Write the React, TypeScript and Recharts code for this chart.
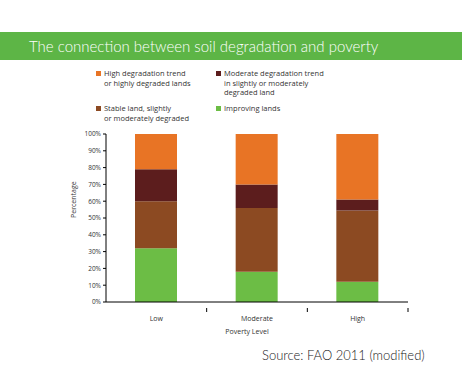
import React from 'react'
import { BarChart, Bar, XAxis, YAxis } from 'recharts'

const levels = ['Low', 'Moderate', 'High']
const improving = [32, 18, 12]
const stable = [28, 38, 42.5]
const moderateTrend = [19, 14, 6.5]
const highTrend = [21, 30, 39]
const yTicks = [0, 10, 20, 30, 40, 50, 60, 70, 80, 90, 100]

const SERIES = [
  { key: 'improving', name: 'Improving lands', color: '#6cbd45' },
  { key: 'stable', name: 'Stable land, slightly\nor moderately degraded', color: '#8c4a22' },
  { key: 'moderateTrend', name: 'Moderate degradation trend\nin slightly or moderately\ndegraded land', color: '#5c1d1d' },
  { key: 'highTrend', name: 'High degradation trend\nor highly degraded lands', color: '#e87425' },
]

const data = levels.map((level, i) => ({
  level,
  improving: improving[i],
  stable: stable[i],
  moderateTrend: moderateTrend[i],
  highTrend: highTrend[i],
}))

const FONT = '"Open Sans", "Liberation Sans", sans-serif'
const BAND = (408 - 106) / levels.length

const CategoryTick = (props: any) => {
  const { x, y, payload } = props
  return (
    <g>
      <line x1={x + BAND / 2} y1={y - 2} x2={x + BAND / 2} y2={y + 2} stroke="#000" />
      <text x={x} y={y + 11} textAnchor="middle" fontSize={7} fill="#333" fontFamily={FONT}>
        {payload.value}
      </text>
    </g>
  )
}

const legendOrder = ['highTrend', 'moderateTrend', 'stable', 'improving']
const legendPos: Record<string, { left: number; top: number }> = {
  highTrend: { left: 96, top: 69 },
  moderateTrend: { left: 216, top: 69 },
  stable: { left: 96, top: 104 },
  improving: { left: 216, top: 104 },
}

export default function App() {
  return (
    <div style={{ position: 'absolute', left: 0, top: 0, width: 466, height: 374, background: '#fff', overflow: 'hidden' }}>
      <div
        style={{
          position: 'absolute', left: 0, top: 32, width: 462, height: 28, background: '#5db546',
          color: '#fff', fontFamily: 'Lato, sans-serif', fontWeight: 300, fontSize: 15,
          lineHeight: '28px', paddingLeft: 29, boxSizing: 'border-box', whiteSpace: 'nowrap',
        }}
      >
        The connection between soil degradation and poverty
      </div>

      {legendOrder.map((k) => {
        const s = SERIES.find((x) => x.key === k)!
        const p = legendPos[k]
        return (
          <div key={k} style={{ position: 'absolute', left: p.left, top: p.top, display: 'flex', fontFamily: FONT, fontSize: 7.5, color: '#333', lineHeight: '9.6px' }}>
            <span style={{ width: 5, height: 5, background: s.color, marginTop: 2, marginRight: 3, flexShrink: 0 }} />
            <span style={{ whiteSpace: 'pre' }}>{s.name}</span>
          </div>
        )
      })}

      <div style={{ position: 'absolute', left: 0, top: 0 }}>
        <BarChart width={466} height={374} data={data} margin={{ top: 134, right: 58, bottom: 40, left: 66 }} barSize={42}>
          <XAxis
            dataKey="level"
            height={32}
            axisLine={{ stroke: '#000' }}
            tickLine={false}
            tick={<CategoryTick />}
            interval={0}
            label={{ value: 'Poverty Level', position: 'insideBottom', offset: 0, fontSize: 7, fill: '#333', fontFamily: FONT, dx: -10 }}
          />
          <YAxis
            domain={[0, 100]}
            ticks={yTicks}
            width={40}
            interval={0}
            tickFormatter={(v) => `${v}%`}
            axisLine={{ stroke: '#000' }}
            tickLine={{ stroke: '#000' }}
            tickSize={3}
            tick={{ fontSize: 6.5, fill: '#333', fontFamily: FONT }}
            label={{ value: 'Percentage', angle: -90, position: 'insideLeft', offset: 8, fontSize: 7, fill: '#333', fontFamily: FONT }}
          />
          {SERIES.map((s) => (
            <Bar key={s.key} dataKey={s.key} stackId="a" fill={s.color} isAnimationActive={false} />
          ))}
        </BarChart>
      </div>

      <div style={{ position: 'absolute', left: 262, top: 347, fontFamily: 'Lato, sans-serif', fontWeight: 300, fontSize: 13, color: '#222', whiteSpace: 'nowrap' }}>
        Source: FAO 2011 (modified)
      </div>
    </div>
  )
}
